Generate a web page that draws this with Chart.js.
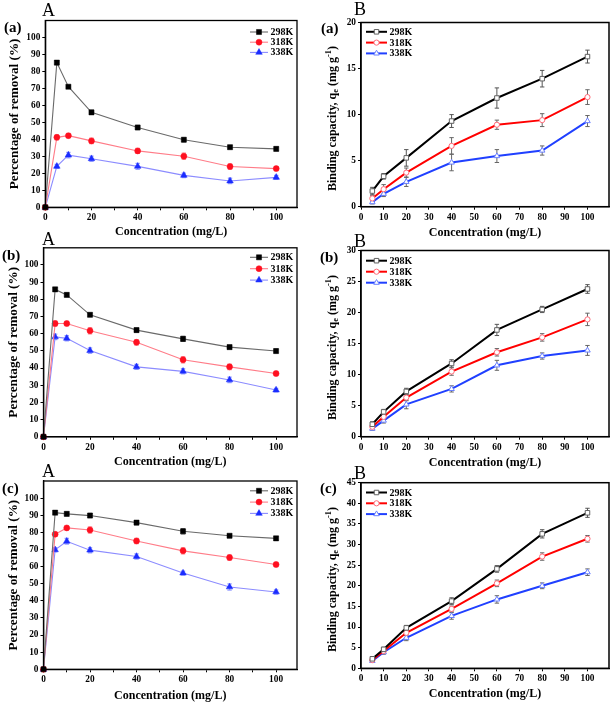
<!DOCTYPE html>
<html>
<head>
<meta charset="utf-8">
<script src="https://cdn.jsdelivr.net/npm/chart.js@4.4.1/dist/chart.umd.min.js"></script>
<style>
html, body { margin: 0; padding: 0; background: #fff; }
#fig { position: relative; width: 614px; height: 704px; overflow: hidden; font-family: 'Liberation Serif', 'Times New Roman', serif; }
#fig canvas { position: absolute; }
.lab { position: absolute; line-height: 1; white-space: nowrap; color: #000; }
.big { font-size: 18px; }
.sml { font-size: 15px; font-weight: bold; }
</style>
</head>
<body>
<div id="fig">
  <canvas id="pAa" width="307" height="240" style="left:0;top:0"></canvas>
  <canvas id="pBa" width="307" height="240" style="left:307px;top:0"></canvas>
  <canvas id="pAb" width="307" height="240" style="left:0;top:230px"></canvas>
  <canvas id="pBb" width="307" height="240" style="left:307px;top:230px"></canvas>
  <canvas id="pAc" width="307" height="244" style="left:0;top:460px"></canvas>
  <canvas id="pBc" width="307" height="244" style="left:307px;top:460px"></canvas>

  <div class="lab big" style="left:42px;top:1px">A</div>
  <div class="lab sml" style="left:4px;top:20px">(a)</div>
  <div class="lab big" style="left:354px;top:0">B</div>
  <div class="lab sml" style="left:321px;top:21px">(a)</div>
  <div class="lab big" style="left:42px;top:230px">A</div>
  <div class="lab sml" style="left:2px;top:248px">(b)</div>
  <div class="lab big" style="left:354px;top:232px">B</div>
  <div class="lab sml" style="left:320px;top:250px">(b)</div>
  <div class="lab big" style="left:42px;top:462px">A</div>
  <div class="lab sml" style="left:2px;top:481px">(c)</div>
  <div class="lab big" style="left:354px;top:464px">B</div>
  <div class="lab sml" style="left:320px;top:481px">(c)</div>
</div>
<script>
'use strict';
let temps = ['298K', '318K', '338K'];
let concA = [0, 5, 10, 20, 40, 60, 80, 100];
let concB = [5, 10, 20, 40, 60, 80, 100];

// A: percentage of removal (%)
let removalA1_298 = [0, 85.2, 71.0, 55.9, 47.0, 39.8, 35.4, 34.4];
let removalA1_318 = [0, 41.2, 42.2, 39.1, 33.2, 30.1, 24.0, 22.8];
let removalA1_338 = [0, 24.1, 30.7, 28.6, 24.1, 18.8, 15.5, 17.6];
let removalA2_298 = [0, 85.8, 82.6, 71.0, 62.1, 57.0, 52.2, 49.9];
let removalA2_318 = [0, 65.9, 65.9, 61.7, 55.0, 44.8, 40.7, 36.8];
let removalA2_338 = [0, 58.1, 57.3, 50.2, 40.7, 38.1, 33.1, 27.2];
let removalA3_298 = [0, 91.5, 90.8, 89.8, 85.7, 80.6, 78.0, 76.5];
let removalA3_318 = [0, 78.9, 82.6, 81.4, 75.0, 69.2, 65.3, 61.2];
let removalA3_338 = [0, 69.8, 74.8, 69.6, 65.9, 56.2, 48.1, 45.2];

let removalErrA1_298 = [0, 1.0, 1.0, 1.2, 1.2, 1.2, 1.0, 1.0];
let removalErrA1_318 = [0, 1.5, 1.2, 1.6, 1.5, 1.8, 1.6, 1.2];
let removalErrA1_338 = [0, 1.2, 1.6, 1.5, 1.8, 1.3, 1.6, 1.2];
let removalErrA2_298 = [0, 1.0, 1.0, 1.0, 1.2, 1.5, 1.0, 1.2];
let removalErrA2_318 = [0, 1.5, 1.2, 1.8, 1.6, 1.8, 1.6, 1.2];
let removalErrA2_338 = [0, 1.6, 1.5, 1.6, 1.5, 1.5, 1.6, 1.0];
let removalErrA3_298 = [0, 1.0, 1.0, 1.2, 1.2, 1.5, 1.0, 1.0];
let removalErrA3_318 = [0, 1.2, 1.0, 1.8, 1.5, 1.8, 1.6, 1.2];
let removalErrA3_338 = [0, 1.2, 1.6, 1.5, 1.5, 1.2, 1.8, 1.2];

// B: binding capacity qe (mg/g)
let capacityB1_298 = [1.7, 3.3, 5.3, 9.3, 11.8, 13.9, 16.3];
let capacityB1_318 = [0.9, 1.9, 3.7, 6.6, 8.9, 9.4, 11.9];
let capacityB1_338 = [0.5, 1.4, 2.7, 4.8, 5.5, 6.1, 9.3];
let capacityB2_298 = [2.0, 4.0, 7.3, 11.8, 17.2, 20.5, 23.8];
let capacityB2_318 = [1.6, 3.2, 6.3, 10.5, 13.6, 16.0, 18.9];
let capacityB2_338 = [1.3, 2.6, 5.2, 7.7, 11.5, 13.0, 13.9];
let capacityB3_298 = [2.3, 4.6, 9.8, 16.3, 24.1, 32.6, 37.7];
let capacityB3_318 = [2.0, 4.2, 8.6, 14.4, 20.6, 27.1, 31.4];
let capacityB3_338 = [1.8, 3.9, 7.4, 12.7, 16.7, 20.0, 23.3];

let capacityErrB1_298 = [0.4, 0.3, 0.9, 0.7, 1.1, 0.9, 0.7];
let capacityErrB1_318 = [0.3, 0.5, 0.5, 0.9, 0.5, 0.7, 0.8];
let capacityErrB1_338 = [0.2, 0.3, 0.5, 0.9, 0.7, 0.5, 0.6];
let capacityErrB2_298 = [0.4, 0.4, 0.5, 0.6, 0.9, 0.5, 0.7];
let capacityErrB2_318 = [0.3, 0.4, 0.5, 0.6, 0.6, 0.6, 1.0];
let capacityErrB2_338 = [0.3, 0.4, 0.7, 0.5, 0.8, 0.5, 0.8];
let capacityErrB3_298 = [0.5, 0.5, 0.6, 0.8, 0.8, 1.0, 1.1];
let capacityErrB3_318 = [0.4, 0.5, 0.6, 0.7, 0.8, 0.9, 0.8];
let capacityErrB3_338 = [0.4, 0.5, 0.7, 0.8, 0.9, 0.7, 0.8];

let titleX = 'Concentration (mg/L)';
let titleA = 'Percentage of removal (%)';

let styleA = [
    {line: '#6a6a6a', fill: '#000000', err: '#7a7a7a', shape: 'rect', r: 3.6},
    {line: '#ff7c88', fill: '#ff1020', err: '#ff8c96', shape: 'circle', r: 3},
    {line: '#8c8cff', fill: '#1a2cff', err: '#9aa2ff', shape: 'triangle', r: 3.8},
];
let styleB = [
    {line: '#000000', fill: '#ffffff', stroke: '#606060', err: '#555555', shape: 'rect', r: 3.2},
    {line: '#ff0000', fill: '#ffffff', stroke: '#ff6a78', err: '#666666', shape: 'circle', r: 2.6},
    {line: '#2040ff', fill: '#ffffff', stroke: '#6a80ff', err: '#666666', shape: 'triangle', r: 3.2},
];

let panels = [
    {id: 'pAa', kind: 'A', box: [0, 0, 307, 240], area: [45.3, 297, 20.5, 207.3], yTitleX: 15, xTitleY: 231.5, legTop: 11.5, legGap: 10.2,
     ys: [removalA1_298, removalA1_318, removalA1_338], es: [removalErrA1_298, removalErrA1_318, removalErrA1_338]},
    {id: 'pAb', kind: 'A', box: [0, 230, 307, 240], area: [43.5, 297, 247.8, 436.8], yTitleX: 14, xTitleY: 462, legTop: 9.5, legGap: 11.4,
     ys: [removalA2_298, removalA2_318, removalA2_338], es: [removalErrA2_298, removalErrA2_318, removalErrA2_338]},
    {id: 'pAc', kind: 'A', box: [0, 460, 307, 244], area: [43.5, 297, 481, 669.3], yTitleX: 14, xTitleY: 696, legTop: 9.8, legGap: 11.3,
     ys: [removalA3_298, removalA3_318, removalA3_338], es: [removalErrA3_298, removalErrA3_318, removalErrA3_338]},
    {id: 'pBa', kind: 'B', box: [307, 0, 307, 240], area: [361, 610, 22.5, 206.7], yTitleX: 333, xTitleY: 232.5, yMax: 20, legTop: 9.3, legGap: 10.8,
     ys: [capacityB1_298, capacityB1_318, capacityB1_338], es: [capacityErrB1_298, capacityErrB1_318, capacityErrB1_338]},
    {id: 'pBb', kind: 'B', box: [307, 230, 307, 240], area: [361, 610, 250.5, 436.7], yTitleX: 333, xTitleY: 462.5, yMax: 30, legTop: 10.2, legGap: 11,
     ys: [capacityB2_298, capacityB2_318, capacityB2_338], es: [capacityErrB2_298, capacityErrB2_318, capacityErrB2_338]},
    {id: 'pBc', kind: 'B', box: [307, 460, 307, 244], area: [361, 610, 482.7, 668.3], yTitleX: 333, xTitleY: 694, yMax: 45, legTop: 9.8, legGap: 10.8,
     ys: [capacityB3_298, capacityB3_318, capacityB3_338], es: [capacityErrB3_298, capacityErrB3_318, capacityErrB3_338]},
];

Chart.defaults.font.family = "'Liberation Serif', 'Times New Roman', serif";
Chart.defaults.font.weight = 'bold';
Chart.defaults.color = '#000';

function TickList(from, to, step){
    let out = [];
    for (let v = from; v <= to + 1e-9; v += step) out.push({value: v});
    return out;
}

function DrawMarker(ctx, shape, r, x, y, fill, stroke, bw){
    ctx.save();
    ctx.fillStyle = fill;
    ctx.strokeStyle = stroke;
    ctx.lineWidth = bw;
    Chart.helpers.drawPoint(ctx, {pointStyle: shape, radius: r, rotation: 0, borderWidth: bw}, x, y);
    ctx.restore();
}

let errorBarsPlugin = {
    id: 'errorBars',
    beforeDatasetsDraw(chart){
        let ctx = chart.ctx;
        let xs = chart.scales.x, ys = chart.scales.y;
        chart.data.datasets.forEach(ds => {
            if(!ds.errors) return;
            ctx.save();
            ctx.strokeStyle = ds.errorColor;
            ctx.lineWidth = ds.errorWidth;
            ds.data.forEach((p, i) => {
                let e = ds.errors[i];
                if(!e) return;
                let x = xs.getPixelForValue(p.x);
                let y1 = ys.getPixelForValue(p.y + e);
                let y2 = ys.getPixelForValue(p.y - e);
                ctx.beginPath();
                ctx.moveTo(x, y1); ctx.lineTo(x, y2);
                ctx.moveTo(x - 2.2, y1); ctx.lineTo(x + 2.2, y1);
                ctx.moveTo(x - 2.2, y2); ctx.lineTo(x + 2.2, y2);
                ctx.stroke();
            });
            ctx.restore();
        });
    }
};

let framePlugin = {
    id: 'frame',
    afterDraw(chart, args, opts){
        let a = chart.chartArea, ctx = chart.ctx;
        ctx.save();
        ctx.strokeStyle = '#000';
        ctx.lineWidth = opts.width || 1.3;
        ctx.strokeRect(a.left, a.top, a.right - a.left, a.bottom - a.top);
        ctx.restore();
    }
};

let insideLegendPlugin = {
    id: 'insideLegend',
    afterDraw(chart, args, opts){
        let a = chart.chartArea, ctx = chart.ctx;
        let x0 = opts.side === 'right' ? a.right + opts.x0 : a.left + opts.x0;
        chart.data.datasets.forEach((ds, i) => {
            let y = a.top + opts.top + i * opts.gap;
            ctx.save();
            ctx.strokeStyle = ds.borderColor;
            ctx.lineWidth = ds.borderWidth;
            ctx.beginPath();
            ctx.moveTo(x0, y); ctx.lineTo(x0 + opts.len, y);
            ctx.stroke();
            ctx.restore();
            DrawMarker(ctx, ds.pointStyle, ds.pointRadius, x0 + opts.len / 2, y, ds.pointBackgroundColor, ds.pointBorderColor, ds.pointBorderWidth);
            ctx.save();
            ctx.fillStyle = '#000';
            ctx.font = 'bold 10px ' + Chart.defaults.font.family;
            ctx.textBaseline = 'middle';
            ctx.fillText(ds.label, x0 + opts.len + 2.5, y + 0.5);
            ctx.restore();
        });
    }
};

let richTitlePlugin = {
    id: 'richTitle',
    afterDraw(chart, args, opts){
        if(!opts.parts) return;
        let ctx = chart.ctx;
        let fam = Chart.defaults.font.family;
        let fontOf = p => 'bold ' + (p.sub || p.sup ? opts.size * 0.7 : opts.size) + 'px ' + fam;
        ctx.save();
        ctx.translate(opts.x, opts.y);
        ctx.rotate(-Math.PI / 2);
        ctx.fillStyle = '#000';
        ctx.textBaseline = 'middle';
        let widths = opts.parts.map(p => { ctx.font = fontOf(p); return ctx.measureText(p.text).width; });
        let total = widths.reduce((s, w) => s + w, 0);
        let cx = -total / 2;
        opts.parts.forEach((p, i) => {
            ctx.font = fontOf(p);
            ctx.fillText(p.text, cx, p.sub ? 3 : (p.sup ? -4.5 : 0));
            cx += widths[i];
        });
        ctx.restore();
    }
};

function MakePanel(p){
    let [bx, by, bw, bh] = p.box;
    let [al, ar, at, ab] = p.area;
    let isA = p.kind === 'A';
    let xTitleSize = 12;
    let yTitleSize = 13.2;
    let lhX = xTitleSize * 1.2;
    let lhY = yTitleSize * 1.2;
    let padLeft = isA ? Math.max(0, p.yTitleX - bx - lhY / 2) : 0;
    let yW = al - bx - padLeft;
    let xH = by + bh - ab;
    let xTitlePad = Math.max(0, by + bh - p.xTitleY - lhX / 2);
    let xVals = isA ? concA : concB;
    let styles = isA ? styleA : styleB;

    let datasets = p.ys.map((vals, i) => {
        let st = styles[i];
        return {
            label: temps[i],
            data: vals.map((v, k) => ({x: xVals[k], y: v})),
            errors: p.es[i],
            errorColor: st.err,
            errorWidth: isA ? 1.3 : 1,
            borderColor: st.line,
            borderWidth: isA ? 1.1 : 2,
            pointStyle: st.shape,
            pointRadius: st.r,
            pointBackgroundColor: st.fill,
            pointBorderColor: isA ? st.fill : st.stroke,
            pointBorderWidth: isA ? 0.5 : 1,
            tension: 0,
            clip: 6,
        };
    });

    let tickFont = {size: 9.3, weight: 'bold'};
    let axisCommon = {
        grid: {drawOnChartArea: false, drawTicks: true, tickLength: 3, color: '#000', tickColor: '#000', tickWidth: 1},
        border: {display: true, color: '#000', width: 1.3},
    };

    let config = {
        type: 'line',
        data: {datasets: datasets},
        plugins: [errorBarsPlugin, framePlugin, insideLegendPlugin, richTitlePlugin],
        options: {
            responsive: false,
            animation: false,
            events: [],
            layout: {padding: {left: padLeft, right: bx + bw - ar, top: at - by, bottom: 0}},
            plugins: {
                legend: {display: false},
                tooltip: {enabled: false},
                frame: {width: isA ? 1.3 : 1.5},
                insideLegend: isA
                    ? {side: 'right', x0: -47, len: 18, top: p.legTop, gap: p.legGap}
                    : {side: 'left', x0: 5, len: 21, top: p.legTop, gap: p.legGap},
                richTitle: isA ? {} : {
                    x: p.yTitleX - bx, y: (at + ab) / 2 - by + 4, size: 12,
                    parts: [{text: 'Binding capacity, q'}, {text: 'e', sub: true}, {text: ' (mg g'}, {text: '-1', sup: true}, {text: ')'}]
                },
            },
            scales: {
                x: Object.assign({}, axisCommon, {
                    type: 'linear',
                    min: 0,
                    max: isA ? 109 : 109.5,
                    afterBuildTicks: s => { s.ticks = TickList(0, 100, 10); },
                    afterFit: s => { s.height = xH; },
                    ticks: {
                        autoSkip: false, maxRotation: 0, padding: 2, font: tickFont, color: '#000',
                        callback: v => (isA ? (v % 20 === 0 ? v : '') : v)
                    },
                    title: {display: true, text: titleX, color: '#000', font: {size: xTitleSize, weight: 'bold'}, padding: {top: 0, bottom: xTitlePad}},
                }),
                y: Object.assign({}, axisCommon, {
                    type: 'linear',
                    min: 0,
                    max: isA ? 110 : p.yMax,
                    afterBuildTicks: s => { s.ticks = isA ? TickList(0, 100, 10) : TickList(0, p.yMax, 5); },
                    afterFit: s => { s.width = yW; },
                    ticks: {autoSkip: false, padding: 2, font: tickFont, color: '#000'},
                    title: {display: isA, text: titleA, color: '#000', font: {size: yTitleSize, weight: 'bold'}, padding: {top: 0, bottom: 0}},
                }),
            },
        },
    };
    return new Chart(document.getElementById(p.id), config);
}

panels.forEach(MakePanel);
</script>
</body>
</html>
